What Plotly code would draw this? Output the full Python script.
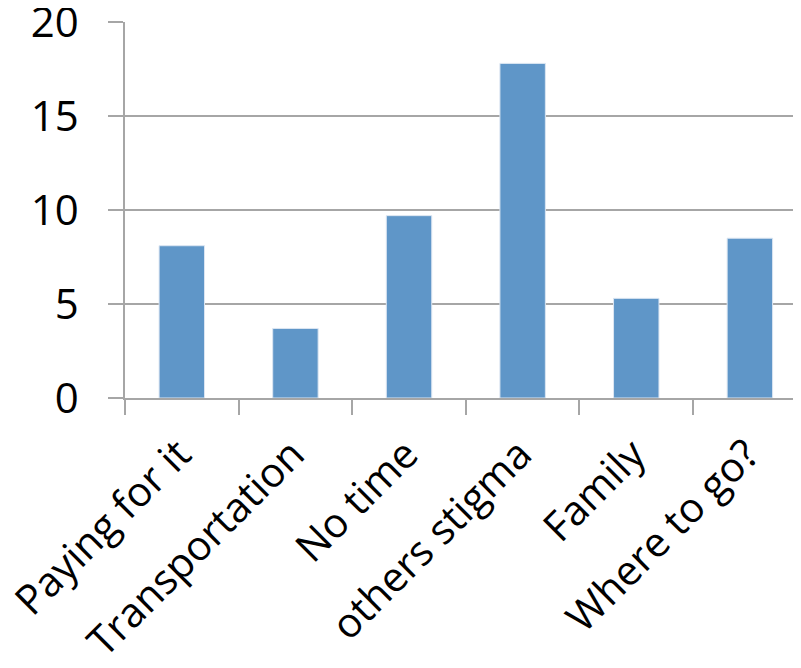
import plotly.graph_objects as go

# barriers to seeking help
categories = ["Paying for it", "Transportation", "No time",
              "others stigma", "Family", "Where to go?"]
values = [8.1, 3.7, 9.7, 17.8, 5.3, 8.5]
y_ticks = [0, 5, 10, 15, 20]

bar_color = "#5f96c8"
grid_color = "#a6a6a6"
font_family = "Open Sans, Liberation Sans, sans-serif"

fig = go.Figure()
fig.add_trace(
    go.Bar(
        x=categories,
        y=values,
        marker=dict(color=bar_color, line=dict(color="#dce6f2", width=1)),
        width=0.4,
        showlegend=False,
    )
)

# page body has an 8px margin, so offsets are shifted by 8
fig.update_layout(
    width=801,
    height=668,
    paper_bgcolor="white",
    plot_bgcolor="white",
    margin=dict(l=117, r=8, t=14, b=278),
    font=dict(family=font_family, size=42, color="black"),
)

fig.update_xaxes(
    range=[-0.5, 5.45],
    automargin=False,
    showgrid=False,
    showline=True,
    linecolor=grid_color,
    linewidth=1.5,
    ticks="outside",
    tickson="boundaries",
    ticklen=15,
    tickwidth=1.5,
    tickcolor=grid_color,
    tickangle=-45,
    ticklabelstandoff=14,
    ticklabelshift=-3,
    tickfont=dict(size=41),
)

fig.update_yaxes(
    range=[0, 20.001],
    tickvals=y_ticks,
    automargin=False,
    showgrid=True,
    gridcolor=grid_color,
    gridwidth=1.5,
    zeroline=False,
    showline=True,
    linecolor=grid_color,
    linewidth=1.5,
    ticks="outside",
    ticklen=15,
    tickwidth=1.5,
    tickcolor=grid_color,
    ticklabelstandoff=21,
    ticklabeloverflow="allow",
    tickfont=dict(size=42),
)

fig.write_html("out.html")
